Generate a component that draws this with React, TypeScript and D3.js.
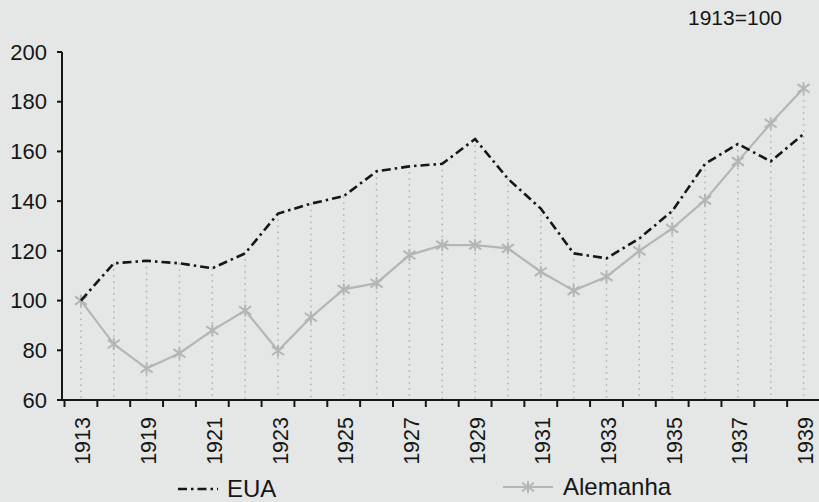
import * as d3 from "d3";

const years = [
  "1913", "1918", "1919", "1920", "1921", "1922", "1923", "1924", "1925", "1926", "1927", "1928",
  "1929", "1930", "1931", "1932", "1933", "1934", "1935", "1936", "1937", "1938", "1939",
];
const eua = [
  100, 115, 116, 115, 113, 119, 135, 139, 142, 152, 154, 155,
  165, 149, 137, 119, 117, 125, 136, 155, 163, 156, 167,
];
const alemanha = [
  100, 82.5, 72.7, 78.8, 88, 96, 79.8, 93.3, 104.5, 107, 118.3, 122.3,
  122.3, 121, 111.6, 104, 109.6, 120, 129, 140.4, 156, 171.3, 185.4,
];
const yTicks = [60, 80, 100, 120, 140, 160, 180, 200];
const seriesNames = ["EUA", "Alemanha"];

const W = 819;
const H = 502;
const font = "Liberation Sans, Arial, sans-serif";
const black = "#161616";
const gray = "#b3b6b6";
const bg = "#e4e7e5";

function Star({ x, y, r }: { x: number; y: number; r: number }) {
  return (
    <g stroke={gray} strokeWidth={2}>
      <line x1={x - r} y1={y - r * 0.7} x2={x + r} y2={y + r * 0.7} />
      <line x1={x - r} y1={y + r * 0.7} x2={x + r} y2={y - r * 0.7} />
      <line x1={x} y1={y - r} x2={x} y2={y + r} />
    </g>
  );
}

export default function App() {
  const x = d3.scaleBand<string>().domain(years).range([64.5, 820]).padding(0);
  const y = d3.scaleLinear().domain([60, 200]).range([400, 52]);
  const cx = (d: string) => (x(d) as number) + x.bandwidth() / 2;

  const line = d3
    .line<number>()
    .x((_, i) => cx(years[i]))
    .y((d) => y(d));

  const dashDot = "9 4 2.5 4";

  return (
    <svg
      width={W}
      height={H}
      style={{ position: "fixed", left: 0, top: 0, background: bg }}
      fontFamily={font}
    >
      <rect width={W} height={H} fill={bg} />

      {/* drop lines */}
      {years.map((yr, i) => (
        <line
          key={"d" + yr}
          x1={cx(yr)}
          x2={cx(yr)}
          y1={y(Math.max(eua[i], alemanha[i]))}
          y2={y(60)}
          stroke="#adb1b1"
          strokeWidth={1.5}
          strokeDasharray="1.5 4.5"
        />
      ))}

      {/* y axis */}
      <line x1={62} x2={62} y1={y(200)} y2={y(60)} stroke={black} strokeWidth={2} />
      {yTicks.map((t) => (
        <g key={"y" + t}>
          <line x1={57} x2={62} y1={y(t)} y2={y(t)} stroke={black} strokeWidth={2} />
          <text x={47} y={y(t)} dy="0.35em" textAnchor="end" fontSize={22} fill={black}>
            {t}
          </text>
        </g>
      ))}

      {/* x axis */}
      <line x1={61} x2={W} y1={y(60)} y2={y(60)} stroke={black} strokeWidth={2} />
      {years.map((yr) => (
        <line
          key={"t" + yr}
          x1={x(yr)}
          x2={x(yr)}
          y1={y(60)}
          y2={y(60) + 7}
          stroke={black}
          strokeWidth={2}
        />
      ))}
      {years.map((yr, i) =>
        i % 2 === 0 ? (
          <text
            key={"l" + yr}
            transform={`translate(${cx(yr) + 2},417) rotate(-90)`}
            dy="0.35em"
            textAnchor="end"
            fontSize={21.5}
            fill={black}
          >
            {yr}
          </text>
        ) : null
      )}

      {/* series */}
      <path d={line(alemanha) ?? ""} fill="none" stroke={gray} strokeWidth={2.2} />
      {alemanha.map((v, i) => (
        <Star key={"m" + i} x={cx(years[i])} y={y(v)} r={6} />
      ))}
      <path
        d={line(eua) ?? ""}
        fill="none"
        stroke={black}
        strokeWidth={2.6}
        strokeDasharray={dashDot}
      />

      <text x={782} y={25} textAnchor="end" fontSize={21} fill={black}>
        1913=100
      </text>

      {/* legend */}
      <line x1={178} x2={218} y1={489} y2={489} stroke={black} strokeWidth={2.6} strokeDasharray={dashDot} />
      <text x={227} y={497} fontSize={24} fill={black}>
        {seriesNames[0]}
      </text>
      <line x1={503} x2={553} y1={487} y2={487} stroke={gray} strokeWidth={2.2} />
      <Star x={528} y={487} r={6} />
      <text x={563} y={495} fontSize={24} fill={black}>
        {seriesNames[1]}
      </text>
    </svg>
  );
}
